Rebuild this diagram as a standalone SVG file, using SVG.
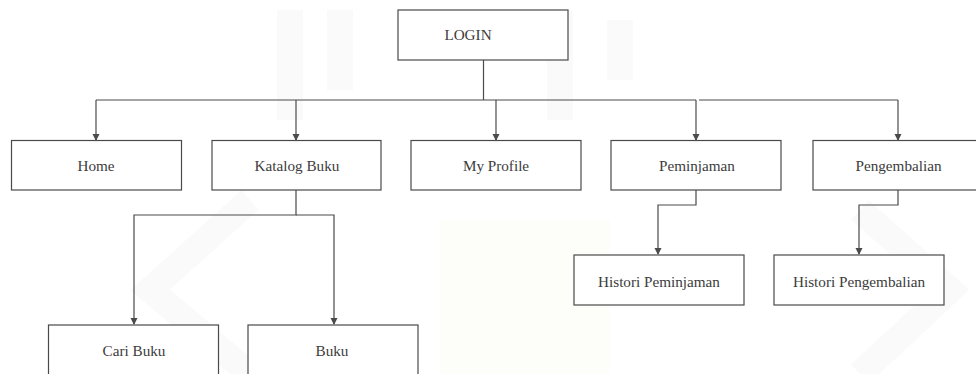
<svg xmlns="http://www.w3.org/2000/svg" width="976" height="374" viewBox="0 0 976 374">
  <style>
    .box rect { fill: #ffffff; stroke: #4a4a4a; stroke-width: 1.2; }
    .label { font-family: "Liberation Serif", "Times New Roman", serif; font-size: 15.2px; fill: #3c3c3c; text-anchor: middle; }
    .wire { fill: none; stroke: #4a4a4a; stroke-width: 1.2; }
    .wm { fill: none; stroke: #fafafa; stroke-width: 26; stroke-linejoin: miter; }
  </style>
  <defs>
    <marker id="tip" markerWidth="8" markerHeight="8" refX="6" refY="3.5" orient="auto" markerUnits="userSpaceOnUse">
      <path d="M0,0 L7,3.5 L0,7 Z" fill="#4a4a4a"/>
    </marker>
  </defs>
  <rect width="976" height="374" fill="#ffffff"/>

  <!-- faint background emblem -->
  <g id="emblem">
    <path class="wm" d="M250,200 L150,290 L250,374"/>
    <path class="wm" d="M860,210 L950,290 L860,374"/>
    <path class="wm" d="M290,10 L290,120 M340,10 L340,90 M560,10 L560,120 M620,20 L620,80"/>
    <rect x="440" y="220" width="170" height="154" fill="#fdfdf9"/>
  </g>

  <g id="connectors">
    <path class="wire" d="M483.5,60 V100"/>
    <path class="wire" d="M96,100 H696"/>
    <path class="wire" d="M699,100 H898"/>
    <path class="wire" d="M96,100 V140" marker-end="url(#tip)"/>
    <path class="wire" d="M296,100 V140" marker-end="url(#tip)"/>
    <path class="wire" d="M496,100 V140" marker-end="url(#tip)"/>
    <path class="wire" d="M696,100 V140" marker-end="url(#tip)"/>
    <path class="wire" d="M898,100 V140" marker-end="url(#tip)"/>
    <path class="wire" d="M296,190 V215 H134 V324" marker-end="url(#tip)"/>
    <path class="wire" d="M296,215 H334 V324" marker-end="url(#tip)"/>
    <path class="wire" d="M696,190 V205 H658 V254" marker-end="url(#tip)"/>
    <path class="wire" d="M898,190 V205 H859 V254" marker-end="url(#tip)"/>
  </g>

  <g id="login" class="box">
    <rect x="398" y="10" width="170" height="50"/>
    <text class="label" x="468" y="40">LOGIN</text>
  </g>
  <g id="home" class="box">
    <rect x="11.5" y="140.5" width="170" height="49.5"/>
    <text class="label" x="96" y="171">Home</text>
  </g>
  <g id="katalog-buku" class="box">
    <rect x="212" y="140.5" width="169" height="49.5"/>
    <text class="label" x="297" y="171">Katalog Buku</text>
  </g>
  <g id="my-profile" class="box">
    <rect x="411" y="140.5" width="170" height="49.5"/>
    <text class="label" x="496" y="171">My Profile</text>
  </g>
  <g id="peminjaman" class="box">
    <rect x="611" y="140.5" width="170" height="49.5"/>
    <text class="label" x="697" y="171">Peminjaman</text>
  </g>
  <g id="pengembalian" class="box">
    <rect x="813" y="140.5" width="170" height="49.5"/>
    <text class="label" x="898.5" y="171">Pengembalian</text>
  </g>
  <g id="histori-peminjaman" class="box">
    <rect x="574" y="255" width="170" height="50"/>
    <text class="label" x="659" y="287">Histori Peminjaman</text>
  </g>
  <g id="histori-pengembalian" class="box">
    <rect x="774" y="255" width="170" height="50"/>
    <text class="label" x="859" y="287">Histori Pengembalian</text>
  </g>
  <g id="cari-buku" class="box">
    <rect x="48.5" y="325" width="170" height="60"/>
    <text class="label" x="134" y="356">Cari Buku</text>
  </g>
  <g id="buku" class="box">
    <rect x="248" y="325" width="170" height="60"/>
    <text class="label" x="332" y="356">Buku</text>
  </g>
</svg>
